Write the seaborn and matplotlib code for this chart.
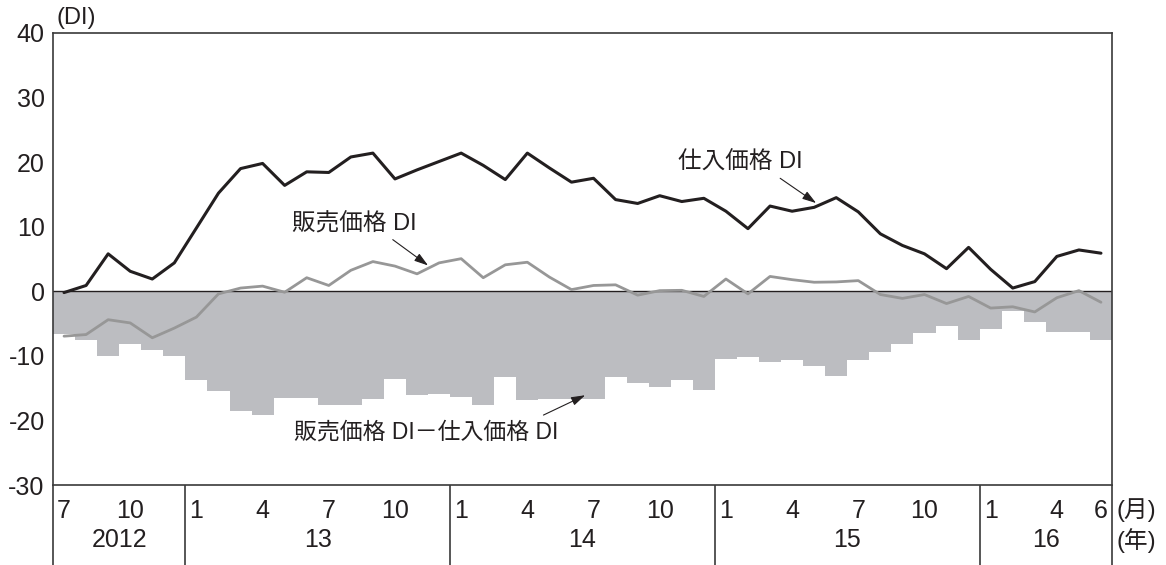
import numpy as np
import pandas as pd
import matplotlib
matplotlib.use("Agg")
import matplotlib.pyplot as plt
import matplotlib.transforms as mtransforms
import seaborn as sns

# ---------------- data (monthly, 2012-07 .. 2016-06) ----------------
start_year, start_month = 2012, 7
buy_di = [-0.2, 0.9, 5.8, 3.1, 1.9, 4.4,
          9.8, 15.2, 19.0, 19.8, 16.4, 18.5, 18.4, 20.8, 21.4, 17.4, 18.8, 20.1,
          21.4, 19.5, 17.3, 21.4, 19.1, 16.9, 17.5, 14.2, 13.6, 14.8, 13.9, 14.4,
          12.4, 9.7, 13.2, 12.4, 13.0, 14.5, 12.3, 8.9, 7.1, 5.8, 3.5, 6.8,
          3.4, 0.5, 1.5, 5.4, 6.4, 5.9]
sell_di = [-6.95, -6.7, -4.4, -4.9, -7.2, -5.7,
           -4.0, -0.4, 0.5, 0.8, -0.15, 2.1, 0.9, 3.25, 4.6, 3.9, 2.7, 4.4,
           5.05, 2.1, 4.1, 4.5, 2.2, 0.26, 0.9, 1.0, -0.6, 0.1, 0.15, -0.8,
           1.9, -0.4, 2.3, 1.8, 1.4, 1.45, 1.65, -0.5, -1.1, -0.5, -1.9, -0.8,
           -2.6, -2.4, -3.2, -1.0, 0.1, -1.7]
diff_di = [-6.6, -7.6, -10.05, -8.2, -9.1, -10.05,
           -13.75, -15.45, -18.5, -19.2, -16.6, -16.6, -17.6, -17.6, -16.75, -13.65, -16.1, -15.95,
           -16.4, -17.65, -13.25, -16.85, -16.7, -16.65, -16.65, -13.25, -14.2, -14.8, -13.8, -15.3,
           -10.55, -10.1, -10.9, -10.65, -11.6, -13.1, -10.65, -9.4, -8.2, -6.4, -5.3, -7.6,
           -5.9, -3.0, -4.8, -6.3, -6.3, -7.6]

tick_months = [(2012, 7), (2012, 10),
               (2013, 1), (2013, 4), (2013, 7), (2013, 10),
               (2014, 1), (2014, 4), (2014, 7), (2014, 10),
               (2015, 1), (2015, 4), (2015, 7), (2015, 10),
               (2016, 1), (2016, 4), (2016, 6)]
year_labels = ["2012", "13", "14", "15", "16"]
years = [2012, 2013, 2014, 2015, 2016]
y_ticks = [-30, -20, -10, 0, 10, 20, 30, 40]

label_buy = "仕入価格 DI"
label_sell = "販売価格 DI"
label_diff = "販売価格 DI－仕入価格 DI"

# ---------------- build frame ----------------
n = len(buy_di)
idx = np.arange(n)
df = pd.DataFrame({"idx": idx, "buy": buy_di, "sell": sell_di, "diff": diff_di})

def pos(y, m):
    return (y - start_year) * 12 + (m - start_month)

# ---------------- style ----------------
sns.set_theme(style="white")
plt.rcParams["font.family"] = ["Liberation Sans", "Noto Sans CJK JP", "DejaVu Sans"]
plt.rcParams["axes.unicode_minus"] = False

BLACK = "#231f20"
GRAY_LINE = "#979797"
GRAY_BAR = "#bcbdc1"
AX_COL = "#3a3a3a"

fig = plt.figure(figsize=(11.66, 5.65), dpi=100)
W, H = 1166, 565
L, R, T, B = 53, 1112, 33, 485
ax = fig.add_axes([L / W, 1 - B / H, (R - L) / W, (B - T) / H])

sns.barplot(data=df, x="idx", y="diff", color=GRAY_BAR, saturation=1,
            width=1.0, linewidth=0, errorbar=None, ax=ax, zorder=1)
ax.axhline(0, color=BLACK, lw=1.0, zorder=2)
sns.lineplot(data=df, x="idx", y="sell", color=GRAY_LINE, lw=2.0, ax=ax, zorder=3)
sns.lineplot(data=df, x="idx", y="buy", color=BLACK, lw=2.2, ax=ax, zorder=4)

ax.set_xlim(-0.5, n - 0.5)
ax.set_ylim(-30, 40)
ax.set_yticks(y_ticks)
ax.set_yticklabels([str(v) for v in y_ticks])
ax.set_xticks([pos(y, m) for y, m in tick_months])
ax.set_xticklabels([str(m) for y, m in tick_months])
ax.set_xlabel("")
ax.set_ylabel("")
ax.tick_params(axis="y", direction="in", length=7, width=1, color=AX_COL,
               labelsize=18, pad=6, labelcolor="#231f20")
ax.tick_params(axis="x", length=0, labelsize=18, pad=10, labelcolor="#231f20")
for s in ax.spines.values():
    s.set_color(AX_COL)
    s.set_linewidth(1.2)

# lower box: separators between years, extended axis sides
trans = mtransforms.blended_transform_factory(ax.transData, ax.transAxes)
ext = -(H - B) / (B - T)
seps = [-0.5] + [pos(y, 1) - 0.5 for y in years[1:]] + [n - 0.5]
for xs in seps:
    ax.plot([xs, xs], [0, ext], transform=trans, color=AX_COL, lw=1.2,
            clip_on=False, solid_capstyle="butt")

# year labels centered on the months of each year
for yl, yv in zip(year_labels, years):
    months_in = [i for i in idx if (start_month - 1 + i) // 12 + start_year == yv]
    xc = (months_in[0] + months_in[-1]) / 2
    ax.text(xc, -0.122, yl, transform=trans, ha="center", va="center",
            fontsize=18, color="#231f20")

ax.text(1.004, -0.056, "(月)", transform=ax.transAxes, ha="left", va="center",
        fontsize=17, color="#231f20")
ax.text(1.004, -0.122, "(年)", transform=ax.transAxes, ha="left", va="center",
        fontsize=17, color="#231f20")
ax.text(0.003, 1.033, "(DI)", transform=ax.transAxes, ha="left", va="center",
        fontsize=17, color="#231f20")

# annotations
arrow = dict(arrowstyle="-|>,head_length=0.7,head_width=0.22", lw=0.8,
             color=BLACK, shrinkA=0, shrinkB=0)
ax.text(13.15, 10.4, label_sell, ha="center", va="center", fontsize=17, color="#231f20")
ax.annotate("", xy=(16.5, 4.0), xytext=(14.9, 8.0), arrowprops=arrow)
ax.text(30.67, 19.9, label_buy, ha="center", va="center", fontsize=17, color="#231f20")
ax.annotate("", xy=(34.09, 13.66), xytext=(32.46, 17.5), arrowprops=arrow)
ax.text(16.4, -21.8, label_diff, ha="center", va="center", fontsize=16.5, color="#231f20")
ax.annotate("", xy=(23.62, -16.1), xytext=(21.73, -19.17), arrowprops=arrow)

legend = ax.get_legend()
if legend is not None:
    legend.remove()

fig.savefig("out.png", dpi=100)
